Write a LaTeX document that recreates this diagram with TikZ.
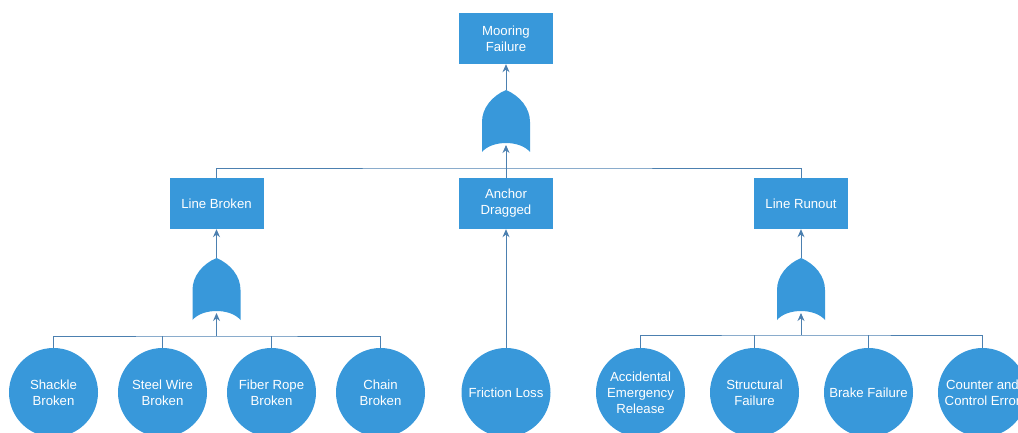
\documentclass[tikz,border=0pt]{standalone}
\usepackage{fontspec}
\setmainfont{Liberation Sans}
\usetikzlibrary{arrows.meta}
\definecolor{fillblue}{RGB}{56,152,218}
\definecolor{linecol}{RGB}{76,128,176}
\tikzset{
  orgate/.pic={
    \fill[fillblue] (-24,62) -- (-24,32) .. controls (-24,18) and (-14,6) .. (0,0)
      .. controls (14,6) and (24,18) .. (24,32) -- (24,62)
      .. controls (14,50) and (-14,50) .. (-24,62) -- cycle;
    \coordinate (-top) at (0,0);
    \coordinate (-bot) at (0,55);
  }
}
\begin{document}
\begin{tikzpicture}[x=1pt,y=-1pt,
  lbl/.style={text=white, align=center, font=\fontsize{13.2}{16}\selectfont, inner sep=0pt},
  box/.style={lbl, fill=fillblue, minimum width=94pt, minimum height=51pt},
  ev/.style={lbl, circle, fill=fillblue, minimum size=89pt},
  conn/.style={draw=linecol, line width=0.9pt},
  arr/.style={conn, -{Stealth[length=8pt,width=7pt]}}]
\useasboundingbox (0,0) rectangle (1018,433);

% boxes
\node[box] (top) at (506,38.5) {Mooring\\Failure};
\node[box] (lb) at (216.5,203.5) {Line Broken};
\node[box] (ad) at (506,203.5) {Anchor\\Dragged};
\node[box] (lr) at (801,203.5) {Line Runout};

% basic events
\node[ev] (c1) at (53.5,392.5) {Shackle\\Broken};
\node[ev] (c2) at (162.5,392.5) {Steel Wire\\Broken};
\node[ev] (c3) at (271.5,392.5) {Fiber Rope\\Broken};
\node[ev] (c4) at (380.5,392.5) {Chain\\Broken};
\node[ev] (fl) at (506,392.5) {Friction Loss};
\node[ev] (r1) at (640.5,392.5) {Accidental\\Emergency\\Release};
\node[ev] (r2) at (754.5,392.5) {Structural\\Failure};
\node[ev] (r3) at (868.5,392.5) {Brake Failure};
\node[ev] (r4) at (982.5,392.5) {Counter and\\Control Error};

% gates
\pic (g1) at (506,90) {orgate};
\pic (g2) at (216.5,258) {orgate};
\pic (g3) at (801,258) {orgate};

% top level
\coordinate (bus1) at (506,168);
\draw[conn] (lb.north) |- (bus1) -| (lr.north);
\draw[arr] (ad.north) -- (g1-bot);
\draw[arr] (g1-top) -- (top.south);

% left branch
\coordinate (bus2) at (216.5,336);
\draw[conn] (c1.north) |- (bus2) -| (c4.north);
\draw[conn] (c2.north) -- (c2.north |- bus2);
\draw[conn] (c3.north) -- (c3.north |- bus2);
\draw[arr] (bus2) -- (g2-bot);
\draw[arr] (g2-top) -- (lb.south);

% middle
\draw[arr] (fl.north) -- (ad.south);

% right branch
\coordinate (bus3) at (801,335);
\draw[conn] (r1.north) |- (bus3) -| (r4.north);
\draw[conn] (r2.north) -- (r2.north |- bus3);
\draw[conn] (r3.north) -- (r3.north |- bus3);
\draw[arr] (bus3) -- (g3-bot);
\draw[arr] (g3-top) -- (lr.south);
\end{tikzpicture}
\end{document}
